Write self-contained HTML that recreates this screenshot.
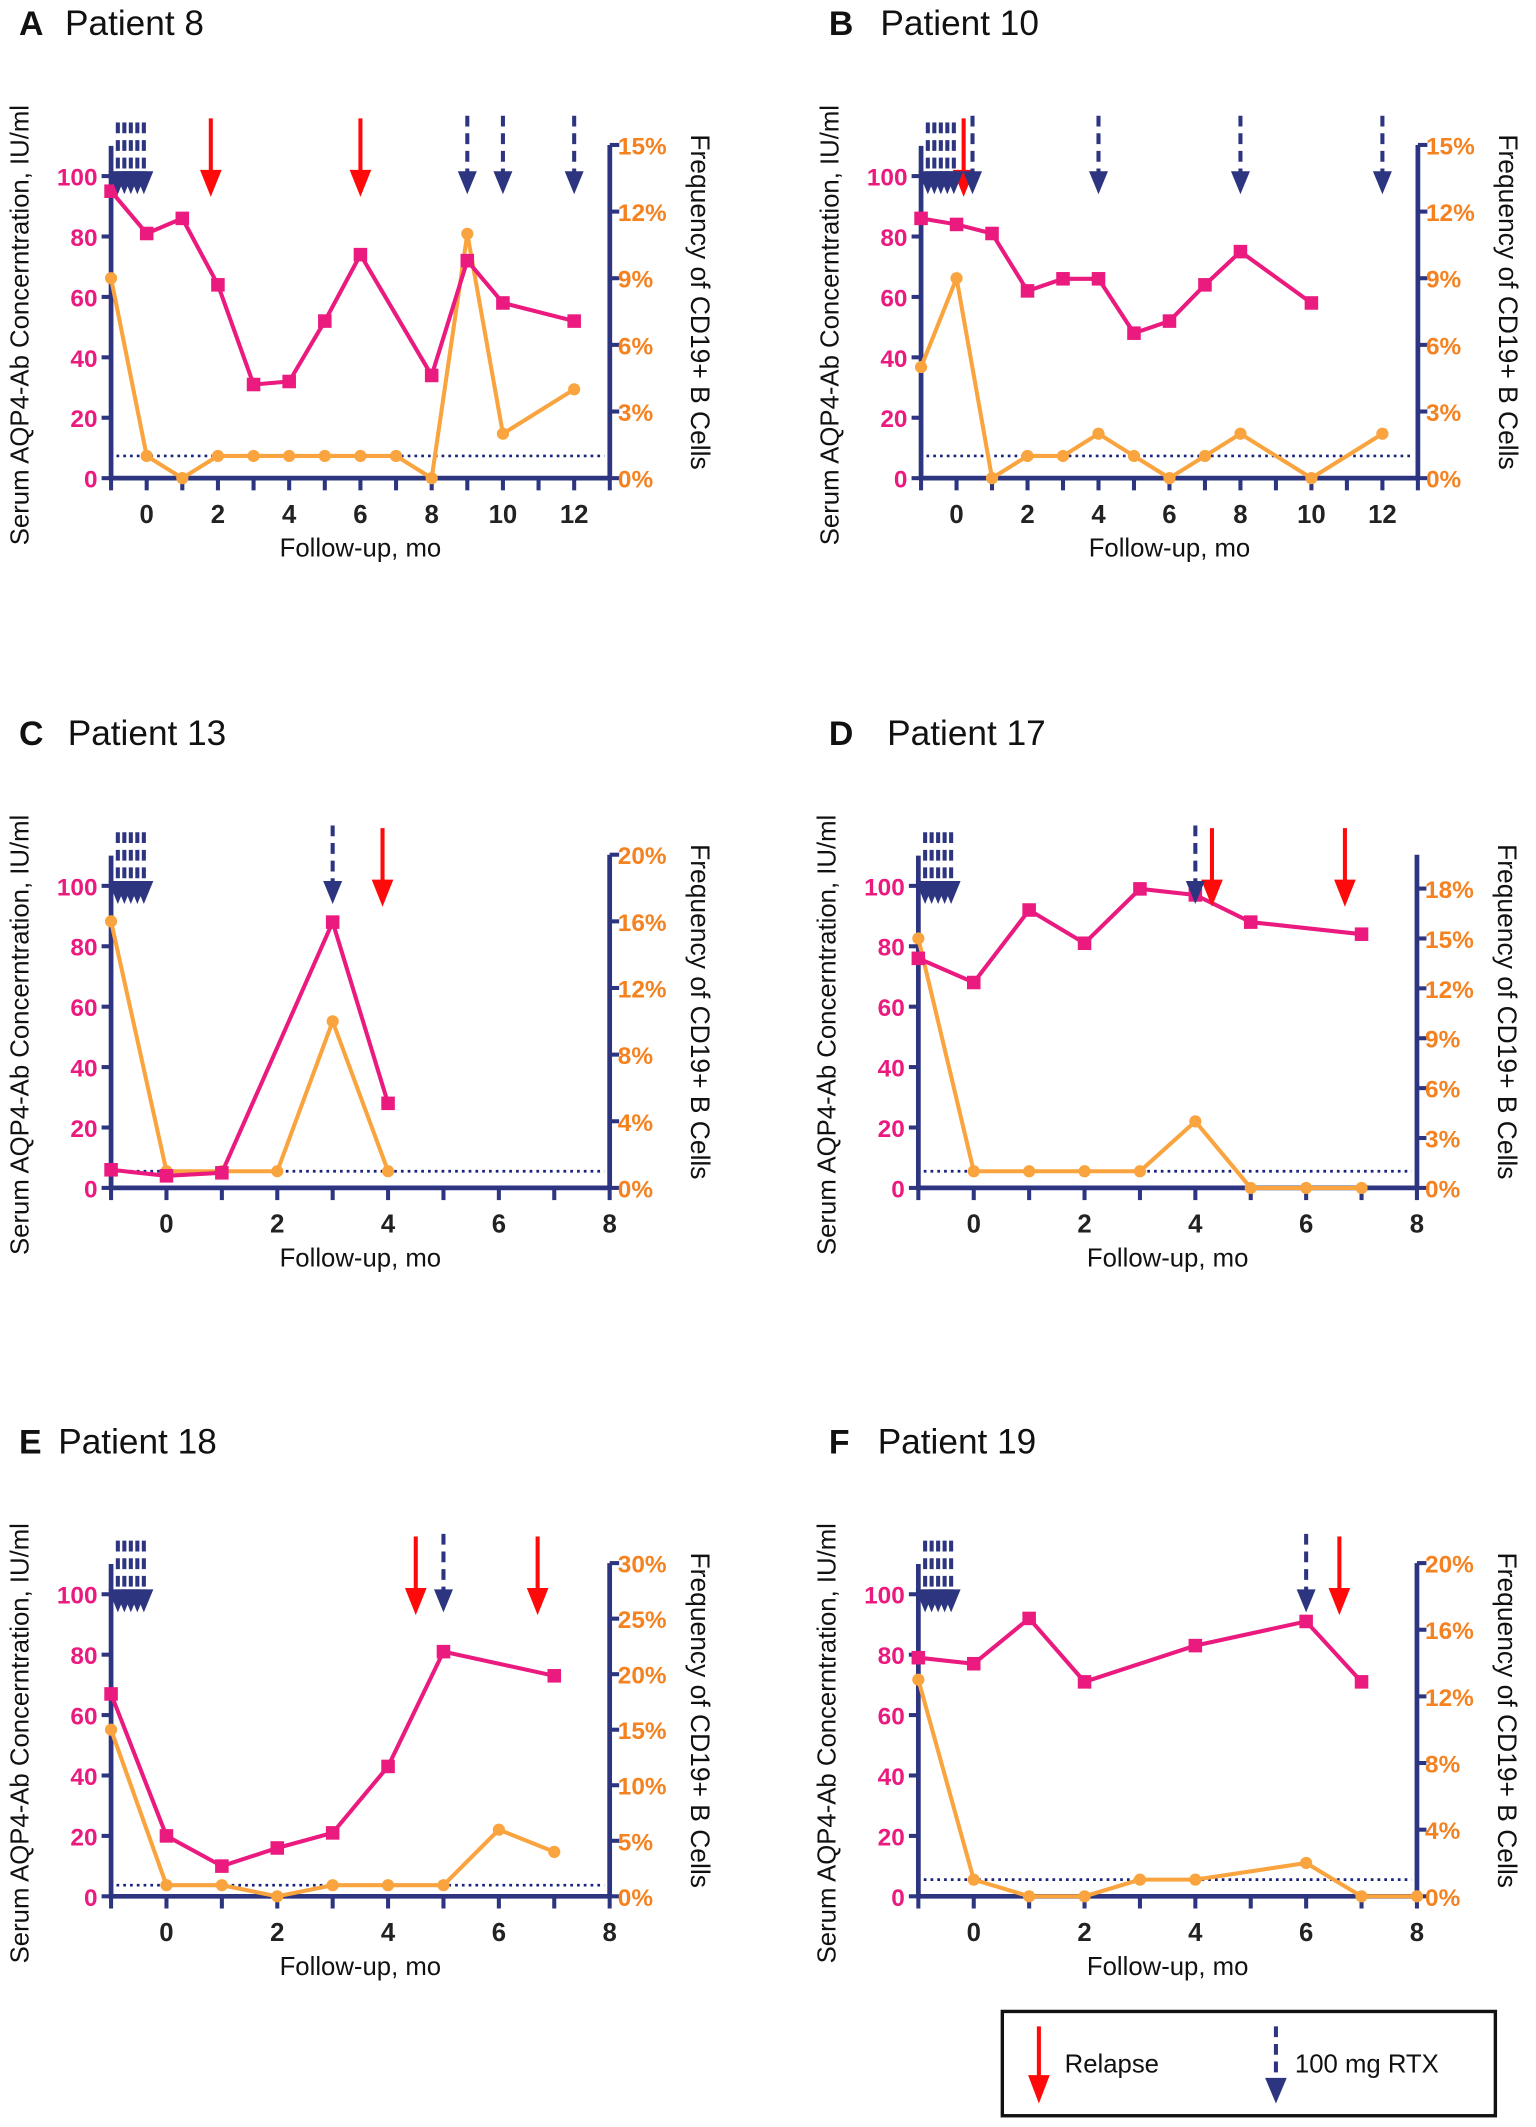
<!DOCTYPE html>
<html><head><meta charset="utf-8">
<style>html,body{margin:0;padding:0;background:#fff}svg{display:block}</style>
</head><body>
<svg id="s" xmlns="http://www.w3.org/2000/svg" width="1536" height="2127" viewBox="0 0 1134 1570.3" font-family="Liberation Sans, sans-serif"></svg>
<script>
const NAVY='#2e3580',PINK='#ea1a7f',OR='#f9a43e',ORT='#f58220',RED='#ff0a0a';
let o='';
function panel(p){
 const {x0,dx,n,zero,rmax,rstep,letter,title,pink,orng,dot,rel,rtx,lx}=p;
 const u=2.23, top=zero-110*u;
 const X=m=>x0+(m+1)*dx, Y=v=>zero-v*u;
 const R=X(p.end);
 const rscale=p.rpx; const Yr=v=>zero-v*rscale;
 o+=`<text x="${lx}" y="${zero-327}" font-size="25" font-weight="bold" fill="#111">${letter}</text><text x="${lx+p.tdx}" y="${zero-327}" font-size="26" fill="#111">${title}</text>`;
 o+=`<g stroke="${NAVY}" stroke-width="3.5" fill="none"><path d="M${x0} ${top}V${zero}H${R}"/><path d="M${R} ${p.rtopY}V${zero}"/></g>`;
 for(let m=-1;m<=p.end;m++){o+=`<line x1="${X(m)}" y1="${zero}" x2="${X(m)}" y2="${zero+9}" stroke="${NAVY}" stroke-width="3"/>`;
  if(m>=0&&m%2==0&&m<=n)o+=`<text x="${X(m)}" y="${zero+33}" font-size="19" font-weight="bold" fill="#222" text-anchor="middle">${m}</text>`;}
 for(let v=0;v<=100;v+=20){o+=`<line x1="${x0-7}" y1="${Y(v)}" x2="${x0}" y2="${Y(v)}" stroke="${NAVY}" stroke-width="3"/><text x="${x0-10}" y="${Y(v)+7}" font-size="18" font-weight="bold" fill="${PINK}" text-anchor="end">${v}</text>`;}
 for(let v=0;v<=rmax;v+=rstep){o+=`<line x1="${R}" y1="${Yr(v)}" x2="${R+7}" y2="${Yr(v)}" stroke="${NAVY}" stroke-width="3"/><text x="${R+6}" y="${Yr(v)+7}" font-size="18" font-weight="bold" fill="${ORT}">${v}%</text>`;}
 o+=`<line x1="${x0+4}" y1="${Yr(dot)}" x2="${R-4}" y2="${Yr(dot)}" stroke="#1a237e" stroke-width="2" stroke-dasharray="2,3"/>`;
 o+=`<text x="${(x0+R)/2}" y="${zero+58}" font-size="19" fill="#111" text-anchor="middle">Follow-up, mo</text>`;
 o+=`<text transform="translate(${x0-61},${zero-113}) rotate(-90)" font-size="19" fill="#111" text-anchor="middle">Serum AQP4-Ab Concerntration, IU/ml</text>`;
 o+=`<text transform="translate(${R+60},${zero-130}) rotate(90)" font-size="19.5" fill="#111" text-anchor="middle">Frequency of CD19+ B Cells</text>`;
 o+=`<polyline fill="none" stroke="${OR}" stroke-width="3" points="${orng.map(d=>X(d[0])+','+Yr(d[1])).join(' ')}"/>`;
 orng.forEach(d=>o+=`<circle cx="${X(d[0])}" cy="${Yr(d[1])}" r="4.5" fill="${OR}"/>`);
 o+=`<polyline fill="none" stroke="${PINK}" stroke-width="3" points="${pink.map(d=>X(d[0])+','+Y(d[1])).join(' ')}"/>`;
 pink.forEach(d=>o+=`<rect x="${X(d[0])-5}" y="${Y(d[1])-5}" width="10" height="10" fill="${PINK}"/>`);
 const tipY=zero-94*u, topA=zero-120*u;
 const dash=(x,t,b)=>{o+=`<line x1="${x}" y1="${t}" x2="${x}" y2="${b-14}" stroke="${NAVY}" stroke-width="3" stroke-dasharray="8,5"/><path d="M${x-7} ${b-17}L${x+7} ${b-17}L${x} ${b}Z" fill="${NAVY}"/>`;};
 rel.forEach(m=>{const x=X(m);o+=`<line x1="${x}" y1="${topA+2}" x2="${x}" y2="${tipY-15}" stroke="${RED}" stroke-width="3"/><path d="M${x-8} ${tipY-18}L${x+8} ${tipY-18}L${x} ${tipY+2}Z" fill="${RED}"/>`;});
 rtx.forEach(m=>dash(X(m),topA,tipY));
 for(let i=0;i<5;i++)dash(x0+5+i*4.8,topA+5,tipY);
}
panel({x0:82,dx:26.3,n:12,end:13,zero:353,lx:14,tdx:34,rmax:15,rstep:3,rpx:(353-107)/15,rtopY:107,letter:'A',title:'Patient 8',dot:1,
 pink:[[-1,95],[0,81],[1,86],[2,64],[3,31],[4,32],[5,52],[6,74],[8,34],[9,72],[10,58],[12,52]],
 orng:[[-1,9],[0,1],[1,0],[2,1],[3,1],[4,1],[5,1],[6,1],[7,1],[8,0],[9,11],[10,2],[12,4]],rel:[1.8,6],rtx:[9,10,12]});
panel({x0:680,dx:26.2,n:12,end:13,zero:353,lx:612,tdx:38,rmax:15,rstep:3,rpx:(353-107)/15,rtopY:107,letter:'B',title:'Patient 10',dot:1,
 pink:[[-1,86],[0,84],[1,81],[2,62],[3,66],[4,66],[5,48],[6,52],[7,64],[8,75],[10,58]],
 orng:[[-1,5],[0,9],[1,0],[2,1],[3,1],[4,2],[5,1],[6,0],[7,1],[8,2],[10,0],[12,2]],rel:[0.2],rtx:[0.45,4,8,12]});
panel({x0:82,dx:40.9,n:8,end:8,zero:877,lx:14,tdx:36,rmax:20,rstep:4,rpx:(877-631)/20,rtopY:631,letter:'C',title:'Patient 13',dot:1,
 pink:[[-1,6],[0,4],[1,5],[3,88],[4,28]],
 orng:[[-1,16],[0,1],[1,1],[2,1],[3,10],[4,1]],rel:[3.9],rtx:[3]});
panel({x0:678,dx:40.9,n:8,end:8,zero:877,lx:612,tdx:43,rmax:18,rstep:3,rpx:(877-656)/18,rtopY:631,letter:'D',title:'Patient 17',dot:1,
 pink:[[-1,76],[0,68],[1,92],[2,81],[3,99],[4,97],[5,88],[7,84]],
 orng:[[-1,15],[0,1],[1,1],[2,1],[3,1],[4,4],[5,0],[6,0],[7,0]],rel:[4.3,6.7],rtx:[4]});
panel({x0:82,dx:40.9,n:8,end:8,zero:1400,lx:14,tdx:29,rmax:30,rstep:5,rpx:(1400-1154)/30,rtopY:1154,letter:'E',title:'Patient 18',dot:1,
 pink:[[-1,67],[0,20],[1,10],[2,16],[3,21],[4,43],[5,81],[7,73]],
 orng:[[-1,15],[0,1],[1,1],[2,0],[3,1],[4,1],[5,1],[6,6],[7,4]],rel:[4.5,6.7],rtx:[5]});
panel({x0:678,dx:40.9,n:8,end:8,zero:1400,lx:612,tdx:36,rmax:20,rstep:4,rpx:(1400-1154)/20,rtopY:1154,letter:'F',title:'Patient 19',dot:1,
 pink:[[-1,79],[0,77],[1,92],[2,71],[4,83],[6,91],[7,71]],
 orng:[[-1,13],[0,1],[1,0],[2,0],[3,1],[4,1],[6,2],[7,0],[8,0]],rel:[6.6],rtx:[6]});
o+=`<rect x="740" y="1485" width="364" height="77" fill="none" stroke="#111" stroke-width="2.5"/>`;
o+=`<line x1="767" y1="1496" x2="767" y2="1535" stroke="${RED}" stroke-width="3"/><path d="M759 1532L775 1532L767 1553Z" fill="${RED}"/>`;
o+=`<text x="786" y="1530" font-size="19" fill="#111">Relapse</text>`;
o+=`<line x1="942" y1="1496" x2="942" y2="1535" stroke="${NAVY}" stroke-width="3" stroke-dasharray="8,5"/><path d="M934 1534L950 1534L942 1553Z" fill="${NAVY}"/>`;
o+=`<text x="956" y="1530" font-size="19" fill="#111">100 mg RTX</text>`;
document.getElementById('s').innerHTML=o;
</script>
</body></html>
